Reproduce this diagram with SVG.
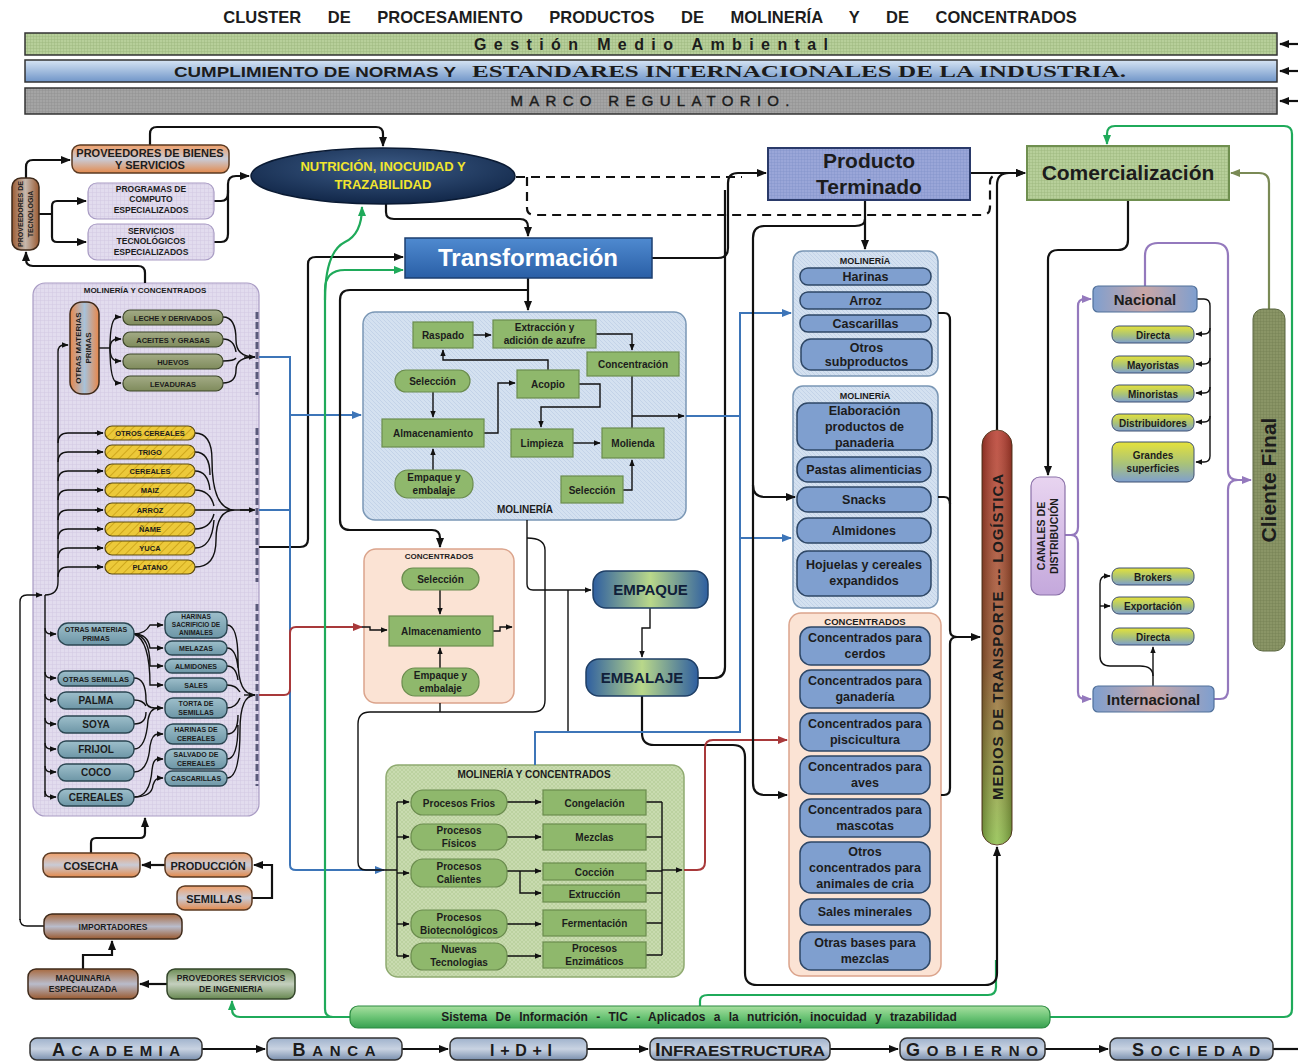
<svg xmlns="http://www.w3.org/2000/svg" width="1298" height="1061" viewBox="0 0 1298 1061">
<style>
text{font-family:"Liberation Sans",Arial,sans-serif;font-weight:bold;fill:#1c1c1c;text-anchor:middle}
.c{fill:none;stroke:#111;stroke-width:2.2}
.cb{fill:none;stroke:#3d75b8;stroke-width:2}
.cr{fill:none;stroke:#a8393a;stroke-width:2}
.cg{fill:none;stroke:#1faa5a;stroke-width:2.2}
.cp{fill:none;stroke:#9479bd;stroke-width:2.2}
.co{fill:none;stroke:#7a8a55;stroke-width:2.2}
.ct{fill:none;stroke:#111;stroke-width:1.4}
.dash{fill:none;stroke:#111;stroke-width:2.2;stroke-dasharray:9,6}
.brk{fill:none;stroke:#5a5a7a;stroke-width:3;stroke-dasharray:7,3}
.orange{fill:url(#gOrange);stroke:#5b3a22;stroke-width:1.5}
.brown{fill:url(#gBrown);stroke:#3f2a1a;stroke-width:1.5}
.gserv{fill:url(#gGreen);stroke:#33452a;stroke-width:1.5}
.lav{fill:url(#pLav);stroke:#a99cc4;stroke-width:1.2}
.olive{fill:url(#gOlive);stroke:#3b4428;stroke-width:1.2}
.yel{fill:url(#pHatch);stroke:#5b4a10;stroke-width:1.2}
.teal{fill:url(#gTeal);stroke:#2b4652;stroke-width:1.4}
.proc{fill:#8fb86c;stroke:#6b8c4e;stroke-width:1.2}
.bpill{fill:#7f9fcf;stroke:#2e4766;stroke-width:1.5}
.actor{fill:url(#gBot);stroke:#333;stroke-width:1.5}
.chan{fill:url(#gChan);stroke:#3f5070;stroke-width:1}
.t7{font-size:7.5px}
.t8{font-size:8.5px}
.t9{font-size:10px}
.t11{font-size:11px}
.t12{font-size:12.5px}
.big{font-size:18px}
</style>
<defs>
<marker id="ah" viewBox="0 0 10 8" refX="9" refY="4" markerWidth="10" markerHeight="8" markerUnits="userSpaceOnUse" orient="auto"><path d="M0,0 L10,4 L0,8 z" fill="#111"/></marker>
<marker id="ahs" viewBox="0 0 10 8" refX="9" refY="4" markerWidth="7" markerHeight="6" markerUnits="userSpaceOnUse" orient="auto"><path d="M0,0 L10,4 L0,8 z" fill="#111"/></marker>
<marker id="ahB" viewBox="0 0 10 8" refX="9" refY="4" markerWidth="10" markerHeight="8" markerUnits="userSpaceOnUse" orient="auto"><path d="M0,0 L10,4 L0,8 z" fill="#3d75b8"/></marker>
<marker id="ahR" viewBox="0 0 10 8" refX="9" refY="4" markerWidth="10" markerHeight="8" markerUnits="userSpaceOnUse" orient="auto"><path d="M0,0 L10,4 L0,8 z" fill="#a8393a"/></marker>
<marker id="ahG" viewBox="0 0 10 8" refX="9" refY="4" markerWidth="10" markerHeight="8" markerUnits="userSpaceOnUse" orient="auto"><path d="M0,0 L10,4 L0,8 z" fill="#1faa5a"/></marker>
<marker id="ahP" viewBox="0 0 10 8" refX="9" refY="4" markerWidth="10" markerHeight="8" markerUnits="userSpaceOnUse" orient="auto"><path d="M0,0 L10,4 L0,8 z" fill="#9479bd"/></marker>
<marker id="ahO" viewBox="0 0 10 8" refX="9" refY="4" markerWidth="10" markerHeight="8" markerUnits="userSpaceOnUse" orient="auto"><path d="M0,0 L10,4 L0,8 z" fill="#7a8a55"/></marker>
<linearGradient id="gOrange" x1="0" y1="0" x2="0" y2="1"><stop offset="0" stop-color="#f0a06a"/><stop offset="0.5" stop-color="#c9cbd6"/><stop offset="1" stop-color="#e48a4c"/></linearGradient>
<linearGradient id="gBrown" x1="0" y1="0" x2="0" y2="1"><stop offset="0" stop-color="#a86a40"/><stop offset="0.5" stop-color="#b9bccb"/><stop offset="1" stop-color="#9a5a30"/></linearGradient>
<linearGradient id="gGreen" x1="0" y1="0" x2="0" y2="1"><stop offset="0" stop-color="#6e8e56"/><stop offset="0.5" stop-color="#c4cfbe"/><stop offset="1" stop-color="#678850"/></linearGradient>
<linearGradient id="gOlive" x1="0" y1="0" x2="0" y2="1"><stop offset="0" stop-color="#a3ab86"/><stop offset="1" stop-color="#7f8b5c"/></linearGradient>
<linearGradient id="gTeal" x1="0" y1="0" x2="0" y2="1"><stop offset="0" stop-color="#9ebfcb"/><stop offset="1" stop-color="#6d96a6"/></linearGradient>
<linearGradient id="gOMP" x1="0" y1="0" x2="1" y2="0"><stop offset="0" stop-color="#e8874a"/><stop offset="0.5" stop-color="#a7c2da"/><stop offset="1" stop-color="#e8874a"/></linearGradient>
<linearGradient id="gPVTec" x1="0" y1="0" x2="1" y2="0"><stop offset="0" stop-color="#9a5a32"/><stop offset="0.5" stop-color="#c6b8ad"/><stop offset="1" stop-color="#9a5a32"/></linearGradient>
<radialGradient id="gEll" cx="0.5" cy="0.35" r="0.7"><stop offset="0" stop-color="#3c5b86"/><stop offset="1" stop-color="#0e2344"/></radialGradient>
<linearGradient id="gTrans" x1="0" y1="0" x2="0" y2="1"><stop offset="0" stop-color="#4f8ad0"/><stop offset="1" stop-color="#2a5fa6"/></linearGradient>
<linearGradient id="gPack" x1="0" y1="0" x2="1" y2="0"><stop offset="0" stop-color="#2f5fa0"/><stop offset="0.5" stop-color="#b9d88a"/><stop offset="1" stop-color="#2f5fa0"/></linearGradient>
<linearGradient id="gMedios" x1="0" y1="0" x2="0" y2="1"><stop offset="0" stop-color="#b83a2c"/><stop offset="0.55" stop-color="#9a5a30"/><stop offset="1" stop-color="#8ec04a"/></linearGradient>
<linearGradient id="gMedX" x1="0" y1="0" x2="1" y2="0"><stop offset="0" stop-color="#000" stop-opacity="0.25"/><stop offset="0.5" stop-color="#fff" stop-opacity="0.15"/><stop offset="1" stop-color="#000" stop-opacity="0.25"/></linearGradient>
<linearGradient id="gNac" x1="0" y1="0" x2="1" y2="0"><stop offset="0" stop-color="#7f9fcf"/><stop offset="0.5" stop-color="#c9a6a6"/><stop offset="1" stop-color="#7f9fcf"/></linearGradient>
<linearGradient id="gCanal" x1="0" y1="0" x2="0" y2="1"><stop offset="0" stop-color="#e8d4f0"/><stop offset="1" stop-color="#c4a8dc"/></linearGradient>
<linearGradient id="gChan" x1="0" y1="0" x2="0" y2="1"><stop offset="0" stop-color="#e5e23a"/><stop offset="0.55" stop-color="#a8c27a"/><stop offset="1" stop-color="#7f9fcf"/></linearGradient>
<linearGradient id="gSis" x1="0" y1="0" x2="0" y2="1"><stop offset="0" stop-color="#a8e0a0"/><stop offset="0.5" stop-color="#6cc476"/><stop offset="1" stop-color="#37a050"/></linearGradient>
<linearGradient id="gBot" x1="0" y1="0" x2="0" y2="1"><stop offset="0" stop-color="#9fb2cc"/><stop offset="0.5" stop-color="#c9d3e2"/><stop offset="1" stop-color="#7a8fae"/></linearGradient>
<linearGradient id="gNorm" x1="0" y1="0" x2="0" y2="1"><stop offset="0" stop-color="#d6e4f4"/><stop offset="1" stop-color="#6f95c8"/></linearGradient>
<pattern id="pLav" width="4" height="4" patternUnits="userSpaceOnUse"><rect width="4" height="4" fill="#e2dcee"/><path d="M0,0 H4 M0,0 V4" stroke="#d2c9e2" stroke-width="1"/></pattern>
<pattern id="pHatch" width="6" height="6" patternUnits="userSpaceOnUse" patternTransform="rotate(45)"><rect width="6" height="6" fill="#ecc93a"/><path d="M0,0 V6" stroke="#cfa71c" stroke-width="2"/></pattern>
<pattern id="pGreenG" width="3" height="3" patternUnits="userSpaceOnUse"><rect width="3" height="3" fill="#b7cf9a"/><path d="M0,0 H3 M0,0 V3" stroke="#98b47a" stroke-width="0.8"/></pattern>
<pattern id="pBlueG" width="3" height="3" patternUnits="userSpaceOnUse"><rect width="3" height="3" fill="#9aa6d8"/><path d="M0,0 H3 M0,0 V3" stroke="#8290c8" stroke-width="0.8"/></pattern>
<pattern id="pGray" width="3" height="3" patternUnits="userSpaceOnUse"><rect width="3" height="3" fill="#a4a4a4"/><path d="M0,0 H3 M0,0 V3" stroke="#8e8e8e" stroke-width="0.8"/></pattern>
<pattern id="pCF" width="3" height="3" patternUnits="userSpaceOnUse"><rect width="3" height="3" fill="#8a9566"/><path d="M0,0 H3 M0,0 V3" stroke="#737f52" stroke-width="0.8"/></pattern>
<pattern id="pBlueBox" width="4" height="4" patternUnits="userSpaceOnUse"><rect width="4" height="4" fill="#d4e1f0"/><path d="M0,0 L4,4" stroke="#c3d3e8" stroke-width="1"/></pattern>
<pattern id="pGreenBox" width="4" height="4" patternUnits="userSpaceOnUse"><rect width="4" height="4" fill="#c9dbb0"/><path d="M0,0 L4,4 M4,0 L0,4" stroke="#b9cf9c" stroke-width="0.8"/></pattern>
</defs>

<rect width="1298" height="1061" fill="#fff"/>

<!-- title and framework bands -->
<g id="title"><text x="650" y="23" style="font-size:16.5px;word-spacing:22px">CLUSTER DE PROCESAMIENTO PRODUCTOS DE MOLINERÍA Y DE CONCENTRADOS</text></g>
<g id="band-ambiental"><rect x="25" y="33" width="1252" height="22" fill="url(#pGreenG)" stroke="#333" stroke-width="1.5"/><text x="651" y="49.5" style="font-size:16px" textLength="354" lengthAdjust="spacing">Gestión  Medio  Ambiental</text></g>
<g id="band-normas"><rect x="25" y="60" width="1252" height="22" fill="url(#gNorm)" stroke="#333" stroke-width="1.5"/><text x="315" y="77" style="font-size:14px" textLength="282" lengthAdjust="spacingAndGlyphs">CUMPLIMIENTO DE NORMAS  Y</text><text x="799" y="77" style="font-size:16px;font-family:'Liberation Serif',serif" textLength="654" lengthAdjust="spacingAndGlyphs">ESTANDARES INTERNACIONALES DE LA INDUSTRIA.</text></g>
<g id="band-marco"><rect x="25" y="88" width="1252" height="26" fill="url(#pGray)" stroke="#333" stroke-width="1.5"/><text x="650" y="106" style="font-size:15px;font-weight:normal;stroke:#1c1c1c;stroke-width:0.4" textLength="279" lengthAdjust="spacing">MARCO REGULATORIO.</text></g>

<!-- process containers -->
<g id="insumos"><rect x="33" y="283" width="226" height="533" rx="12" class="lav"/><text x="145" y="293" style="font-size:8px">MOLINERÍA Y CONCENTRADOS</text></g>
<g id="molineria-proc"><rect x="363" y="312" width="323" height="208" rx="12" fill="url(#pBlueBox)" stroke="#7a97b5" stroke-width="1.5"/><text x="525" y="513" class="t9">MOLINERÍA</text></g>
<g id="concentrados-proc"><rect x="364" y="549" width="150" height="154" rx="12" fill="#fbe3d4" stroke="#dba48c" stroke-width="1.5"/><text x="439" y="559" style="font-size:8px">CONCENTRADOS</text></g>
<g id="procesos"><rect x="386" y="765" width="298" height="212" rx="12" fill="url(#pGreenBox)" stroke="#8faa70" stroke-width="1.5"/><text x="534" y="778" class="t9">MOLINERÍA Y CONCENTRADOS</text></g>
<g id="mol-prod1"><rect x="793" y="251" width="145" height="125" rx="10" fill="url(#pBlueBox)" stroke="#7a97b5" stroke-width="1.5"/><text x="865" y="264" style="font-size:9px">MOLINERÍA</text></g>
<g id="mol-prod2"><rect x="793" y="386" width="145" height="222" rx="10" fill="url(#pBlueBox)" stroke="#7a97b5" stroke-width="1.5"/><text x="865" y="399" style="font-size:9px">MOLINERÍA</text></g>
<g id="conc-prod"><rect x="789" y="613" width="152" height="363" rx="12" fill="#fbe3d4" stroke="#dba48c" stroke-width="1.5"/><text x="865" y="625" style="font-size:9.5px">CONCENTRADOS</text></g>

<!-- connectors -->
<g id="connectors">
<path class="c" d="M1298,44 H1280" marker-end="url(#ah)"/>
<path class="c" d="M1298,71 H1280" marker-end="url(#ah)"/>
<path class="c" d="M1298,101 H1280" marker-end="url(#ah)"/>
<!-- technology providers -->
<path class="c" d="M26,178 V167 Q26,160 33,160 H70" marker-end="url(#ah)"/>
<path class="c" d="M39,214 H52 M52,214 V206 Q52,201 57,201 H86" marker-end="url(#ah)"/>
<path class="c" d="M52,214 V237 Q52,242 57,242 H86" marker-end="url(#ah)"/>
<path class="c" d="M214,201 H221 Q228,201 228,193 V184 Q228,176 236,176 H249" marker-end="url(#ah)"/>
<path class="c" d="M214,242 H221 Q228,242 228,234 V190"/>
<path class="c" d="M150,145 V134 Q150,127 157,127 H376 Q383,127 383,134 V146" marker-end="url(#ah)"/>
<path class="c" d="M145,283 V273 Q145,266 138,266 H33 Q26,266 26,259 V252" marker-end="url(#ah)"/>
<path class="c" d="M386,204 V212 Q386,219 394,219 H520 Q528,219 528,227 V236" marker-end="url(#ah)"/>
<!-- dashed quality link -->
<path class="dash" d="M516,177 H742"/>
<path class="dash" d="M527,177 V208 Q527,215 535,215 H982 Q990,215 990,207 V182 Q990,175 998,175"/>
<!-- supply feeds -->
<path class="c" d="M259,547 H300 Q308,547 308,539 V264 Q308,257 316,257 H403" marker-end="url(#ah)"/>
<path class="cb" d="M259,357 H290 V865 Q290,870 296,870 H384" marker-end="url(#ahB)"/>
<path class="cb" d="M259,510 H290"/>
<path class="cb" d="M290,415 H361" marker-end="url(#ahB)"/>
<path class="cr" d="M259,695 H284 Q290,695 290,689 V633 Q290,627 296,627 H362" marker-end="url(#ahR)"/>
<!-- information system -->
<path class="cg" d="M352,1017 H240 Q232,1017 232,1009 V1001" marker-end="url(#ahG)"/>
<path class="cg" d="M352,1017 H333 Q325,1017 325,1009 V290 Q325,270 345,270 H403" marker-end="url(#ahG)"/>
<path class="cg" d="M325,300 Q325,252 345,242 Q362,234 362,207" marker-end="url(#ahG)"/>
<path class="cg" d="M700,1006 V1001 Q700,995 708,995 H988 Q996,995 996,987 V960"/>
<path class="cg" d="M1048,1017 H1284 Q1292,1017 1292,1009 V134 Q1292,126 1284,126 H1115 Q1107,126 1107,134 V144" marker-end="url(#ahG)"/>
<!-- transformation -->
<path class="c" d="M528,278 V310" marker-end="url(#ah)"/>
<path class="c" d="M528,290 H350 Q340,290 340,300 V520 Q340,530 350,530 H432 Q440,530 440,538 V547" marker-end="url(#ah)"/>
<path class="c" d="M652,258 H718 Q728,258 728,248 V183 Q728,173 738,173 H766" marker-end="url(#ah)"/>
<path class="c" d="M698,678 H714 Q725,678 725,667 V190"/>
<!-- molineria internal -->
<path class="ct" d="M473,335 H491" marker-end="url(#ahs)"/>
<path class="ct" d="M596,334 H632 V350" marker-end="url(#ahs)"/>
<path class="ct" d="M548,370 V360 H443 V350" marker-end="url(#ahs)"/>
<path class="ct" d="M433,392 V417" marker-end="url(#ahs)"/>
<path class="ct" d="M433,470 V449" marker-end="url(#ahs)"/>
<path class="ct" d="M484,433 H498 V383 H515" marker-end="url(#ahs)"/>
<path class="ct" d="M579,384 H600 V407 H541 V427" marker-end="url(#ahs)"/>
<path class="ct" d="M573,443 H600" marker-end="url(#ahs)"/>
<path class="ct" d="M623,490 H632 V460" marker-end="url(#ahs)"/>
<path class="ct" d="M632,376 V428 M632,416 H684" marker-end="url(#ahs)"/>
<!-- concentrados internal -->
<path class="ct" d="M440,590 V614" marker-end="url(#ahs)"/>
<path class="ct" d="M440,668 V648" marker-end="url(#ahs)"/>
<path class="ct" d="M362,627 H370 V630 H387" marker-end="url(#ahs)"/>
<path class="ct" d="M493,631 H500 V627 H512" marker-end="url(#ahs)"/>
<!-- to packing -->
<path class="ct" d="M527,520 V584 Q527,590 533,590 H591" marker-end="url(#ahs)"/>
<path class="ct" d="M527,538 Q545,538 545,550 V700 Q545,712 533,712 H370 Q358,712 358,724 V862 Q358,870 366,870 H384"/>
<path class="ct" d="M440,703 V712"/>
<path class="ct" d="M568,590 V732"/>
<path class="ct" d="M650,608 V628 H642 V657" marker-end="url(#ahs)"/>
<path class="c" d="M642,696 V733 Q642,745 654,745 H733 Q745,745 745,757 V973 Q745,985 757,985 H985 Q997,985 997,973 V847" marker-end="url(#ah)"/>
<path class="cb" d="M535,765 V732 H740 V313 H791" marker-end="url(#ahB)"/>
<path class="cb" d="M686,416 H740 M740,538 H791" marker-end="url(#ahB)"/>
<!-- mixed processes -->
<path class="ct" d="M384,870 H397 M397,802 V956"/>
<path class="ct" d="M397,802 H409" marker-end="url(#ahs)"/>
<path class="ct" d="M397,837 H409" marker-end="url(#ahs)"/>
<path class="ct" d="M397,873 H409" marker-end="url(#ahs)"/>
<path class="ct" d="M397,924 H409" marker-end="url(#ahs)"/>
<path class="ct" d="M397,956 H409" marker-end="url(#ahs)"/>
<path class="ct" d="M507,802 H541" marker-end="url(#ahs)"/>
<path class="ct" d="M507,837 H541" marker-end="url(#ahs)"/>
<path class="ct" d="M507,871 H541" marker-end="url(#ahs)"/>
<path class="ct" d="M520,871 V893 H541" marker-end="url(#ahs)"/>
<path class="ct" d="M507,924 H541" marker-end="url(#ahs)"/>
<path class="ct" d="M507,956 H541" marker-end="url(#ahs)"/>
<path class="ct" d="M646,802 H662 M646,837 H662 M646,871 H662 M646,893 H662 M646,923 H662 M646,955 H662 M662,802 V955"/>
<path class="ct" d="M662,870 H682" marker-end="url(#ahs)"/>
<path class="cr" d="M684,870 H697 Q705,870 705,862 V748 Q705,740 713,740 H787" marker-end="url(#ahR)"/>
<!-- finished product -->
<path class="c" d="M970,173 H1025" marker-end="url(#ah)"/>
<path class="c" d="M865,200 V249" marker-end="url(#ah)"/>
<path class="c" d="M865,219 Q865,226 855,226 H765 Q753,226 753,238 V783 Q753,795 765,795 H787" marker-end="url(#ah)"/>
<path class="c" d="M753,485 Q753,497 765,497 H795" marker-end="url(#ah)"/>
<path class="c" d="M938,313 H944 Q950,313 950,320 V630 Q950,637 957,637 H980" marker-end="url(#ah)"/>
<path class="c" d="M938,497 H944 Q950,497 950,504"/>
<path class="c" d="M941,795 H944 Q950,795 950,788 V644 Q950,637 957,637"/>
<path class="c" d="M997,430 V185 Q997,173 1009,173 H1025" marker-end="url(#ah)"/>
<!-- commercial channels -->
<path class="c" d="M1128,200 V240 Q1128,250 1118,250 H1058 Q1048,250 1048,260 V475" marker-end="url(#ah)"/>
<path class="cp" d="M1065,535 H1071 Q1078,535 1078,527 V306 Q1078,299 1085,299 H1091" marker-end="url(#ahP)"/>
<path class="cp" d="M1071,535 Q1078,535 1078,543 V692 Q1078,699 1085,699 H1091" marker-end="url(#ahP)"/>
<path class="cp" d="M1145,286 V256 Q1145,243 1158,243 H1215 Q1228,243 1228,256 V470 Q1228,480 1238,480 H1251" marker-end="url(#ahP)"/>
<path class="cp" d="M1214,699 H1220 Q1228,699 1228,690 V490 Q1228,480 1238,480"/>
<path class="ct" d="M1197,299 H1204 Q1210,299 1210,306 V456 Q1210,462 1204,462 H1196" marker-end="url(#ahs)"/>
<path class="ct" d="M1210,328 Q1210,334 1204,334 H1196" marker-end="url(#ahs)"/>
<path class="ct" d="M1210,358 Q1210,364 1204,364 H1196" marker-end="url(#ahs)"/>
<path class="ct" d="M1210,387 Q1210,393 1204,393 H1196" marker-end="url(#ahs)"/>
<path class="ct" d="M1210,416 Q1210,422 1204,422 H1196" marker-end="url(#ahs)"/>
<path class="ct" d="M1153,686 V647" marker-end="url(#ahs)"/>
<path class="ct" d="M1153,676 Q1153,666 1140,666 H1110 Q1100,666 1100,656 V584 Q1100,576 1106,576 H1110" marker-end="url(#ahs)"/>
<path class="ct" d="M1100,606 H1110" marker-end="url(#ahs)"/>
<path class="co" d="M1269,309 V183 Q1269,173 1259,173 H1231" marker-end="url(#ahO)"/>
<!-- left supply box internals -->
<path class="ct" d="M99,348 H110"/>
<path class="ct" d="M110,348 Q110,317 118,317 H121" marker-end="url(#ahs)"/>
<path class="ct" d="M110,348 Q110,339 118,339 H121" marker-end="url(#ahs)"/>
<path class="ct" d="M110,348 Q110,361 118,361 H121" marker-end="url(#ahs)"/>
<path class="ct" d="M110,348 Q110,383 118,383 H121" marker-end="url(#ahs)"/>
<path class="ct" d="M223,317 Q236,317 236,340 Q236,357 255,357 M223,339 Q234,339 236,352 M223,361 Q234,361 236,358 M223,383 Q236,383 236,370 Q236,357 255,357"/>
<path class="ct" d="M244,357 H255" marker-end="url(#ahs)"/>
<path class="ct" d="M20,920 V602 Q20,595 27,595 H42" marker-end="url(#ahs)"/>
<path class="ct" d="M44,926 H27 Q20,926 20,919"/>
<path class="ct" d="M45,595 Q58,595 58,582 V352 Q58,345 64,345 H68" marker-end="url(#ahs)"/>
<path class="ct" d="M58,443 Q58,433 68,433 H103 M58,462 Q58,452 68,452 H103 M58,481 Q58,471 68,471 H103 M58,500 Q58,490 68,490 H103 M58,520 Q58,510 68,510 H103 M58,539 Q58,529 68,529 H103 M58,558 Q58,548 68,548 H103 M58,577 Q58,567 68,567 H103"/>
<path class="ct" d="M95,433 H103" marker-end="url(#ahs)"/><path class="ct" d="M95,452 H103" marker-end="url(#ahs)"/><path class="ct" d="M95,471 H103" marker-end="url(#ahs)"/><path class="ct" d="M95,490 H103" marker-end="url(#ahs)"/><path class="ct" d="M95,510 H103" marker-end="url(#ahs)"/><path class="ct" d="M95,529 H103" marker-end="url(#ahs)"/><path class="ct" d="M95,548 H103" marker-end="url(#ahs)"/><path class="ct" d="M95,567 H103" marker-end="url(#ahs)"/>
<path class="ct" d="M195,433 Q212,433 212,460 Q212,510 235,510 M195,452 Q210,452 210,475 M195,471 Q208,471 210,490 M195,490 Q210,490 214,506 M195,510 H253 M195,529 Q210,529 214,514 M195,548 Q212,548 214,520 M195,567 Q216,567 216,540 Q216,510 235,510"/>
<path class="ct" d="M240,510 H255" marker-end="url(#ahs)"/>
<path class="ct" d="M45,595 V797"/>
<path class="ct" d="M45,628 Q45,634 51,634 H56" marker-end="url(#ahs)"/><path class="ct" d="M45,672 Q45,678 51,678 H56" marker-end="url(#ahs)"/><path class="ct" d="M45,694 Q45,700 51,700 H56" marker-end="url(#ahs)"/><path class="ct" d="M45,718 Q45,724 51,724 H56" marker-end="url(#ahs)"/><path class="ct" d="M45,743 Q45,749 51,749 H56" marker-end="url(#ahs)"/><path class="ct" d="M45,766 Q45,772 51,772 H56" marker-end="url(#ahs)"/><path class="ct" d="M45,791 Q45,797 51,797 H56" marker-end="url(#ahs)"/>
<path class="ct" d="M134,634 Q145,634 150,625 H163" marker-end="url(#ahs)"/>
<path class="ct" d="M134,634 Q148,634 150,648 H163" marker-end="url(#ahs)"/>
<path class="ct" d="M134,634 Q150,636 150,666 H163" marker-end="url(#ahs)"/>
<path class="ct" d="M134,634 Q150,640 150,685 H163" marker-end="url(#ahs)"/>
<path class="ct" d="M134,678 Q146,678 146,700 Q146,708 155,708 H163" marker-end="url(#ahs)"/>
<path class="ct" d="M134,700 Q143,700 146,706 M134,724 Q146,724 146,712 M134,749 Q146,749 148,720 Q150,708 158,708"/>
<path class="ct" d="M134,772 Q148,772 150,746 Q152,734 158,734 H163" marker-end="url(#ahs)"/>
<path class="ct" d="M134,797 Q150,797 152,770 Q153,759 158,759 H163" marker-end="url(#ahs)"/>
<path class="ct" d="M134,797 Q152,797 153,785 Q155,778 160,778 H163" marker-end="url(#ahs)"/>
<path class="ct" d="M227,625 Q238,625 238,660 Q238,695 255,695 M227,648 Q236,648 238,668 M227,666 Q236,666 238,680 M227,685 Q236,685 240,692 M227,708 Q236,708 240,698 M227,734 Q238,734 238,715 M227,759 Q238,759 238,725 M227,778 Q240,778 240,730 Q240,695 255,695"/>
<path class="ct" d="M244,695 H255" marker-end="url(#ahs)"/>
<path class="brk" d="M257,312 V395"/>
<path class="brk" d="M257,428 V582"/>
<path class="brk" d="M257,604 V786"/>
<!-- bottom-left supply chain -->
<path class="c" d="M91,853 V843 Q91,838 96,838 H140 Q145,838 145,833 V818" marker-end="url(#ah)"/>
<path class="c" d="M165,865 H142" marker-end="url(#ah)"/>
<path class="c" d="M252,898 H272 V865 H254" marker-end="url(#ah)"/>
<path class="c" d="M83,969 V955 H112 V941" marker-end="url(#ah)"/>
<path class="c" d="M167,984 H140" marker-end="url(#ah)"/>
<!-- actors row -->
<path class="c" d="M202,1049 H265" marker-end="url(#ah)"/>
<path class="c" d="M402,1049 H448" marker-end="url(#ah)"/>
<path class="c" d="M587,1049 H648" marker-end="url(#ah)"/>
<path class="c" d="M830,1049 H898" marker-end="url(#ah)"/>
<path class="c" d="M1045,1049 H1108" marker-end="url(#ah)"/>
<path class="c" d="M1273,1049 H1298"/>
</g>

<!-- providers -->
<g id="prov-tecnologia"><rect x="12" y="178" width="27" height="72" rx="9" fill="url(#gPVTec)" stroke="#3f2a1a" stroke-width="1.5"/><text transform="translate(23,214) rotate(-90)" style="font-size:7px">PROVEEDORES DE</text><text transform="translate(33,214) rotate(-90)" style="font-size:7px">TECNOLOGIA</text></g>
<g id="prov-bienes"><rect x="72" y="145" width="157" height="28" rx="8" class="orange"/><text x="150" y="157" class="t11">PROVEEDORES DE BIENES</text><text x="150" y="169" class="t11">Y SERVICIOS</text></g>
<g id="programas"><rect x="88" y="183" width="126" height="36" rx="9" class="lav"/><text x="151" y="192" class="t8">PROGRAMAS DE</text><text x="151" y="202" class="t8">COMPUTO</text><text x="151" y="213" class="t8">ESPECIALIZADOS</text></g>
<g id="servicios"><rect x="88" y="224" width="126" height="36" rx="9" class="lav"/><text x="151" y="234" class="t8">SERVICIOS</text><text x="151" y="244" class="t8">TECNOLÓGICOS</text><text x="151" y="255" class="t8">ESPECIALIZADOS</text></g>
<g id="nutricion"><ellipse cx="383" cy="176" rx="132" ry="28" fill="url(#gEll)" stroke="#0a1a33" stroke-width="1.5"/><text x="383" y="171" style="font-size:13px;fill:#f2e62e">NUTRICIÓN, INOCUIDAD Y</text><text x="383" y="189" style="font-size:13px;fill:#f2e62e">TRAZABILIDAD</text></g>
<g id="transformacion"><rect x="405" y="238" width="247" height="40" fill="url(#gTrans)" stroke="#1d3f70" stroke-width="1.5"/><text x="528" y="266" style="font-size:24px;fill:#fff">Transformación</text></g>

<!-- raw material supply -->
<g id="otras-mp"><rect x="70" y="302" width="29" height="92" rx="12" fill="url(#gOMP)" stroke="#3f2a1a" stroke-width="1.5"/><text transform="translate(81,348) rotate(-90)" style="font-size:8px">OTRAS MATERIAS</text><text transform="translate(91,348) rotate(-90)" style="font-size:8px">PRIMAS</text></g>
<g id="leche"><rect x="123" y="310" width="100" height="15" rx="7" class="olive"/><text x="173" y="320.5" class="t7">LECHE Y DERIVADOS</text></g>
<g id="aceites"><rect x="123" y="332" width="100" height="15" rx="7" class="olive"/><text x="173" y="342.5" class="t7">ACEITES Y GRASAS</text></g>
<g id="huevos"><rect x="123" y="354" width="100" height="15" rx="7" class="olive"/><text x="173" y="364.5" class="t7">HUEVOS</text></g>
<g id="levaduras"><rect x="123" y="376" width="100" height="15" rx="7" class="olive"/><text x="173" y="386.5" class="t7">LEVADURAS</text></g>
<g id="otros-cereales"><rect x="105" y="426" width="90" height="14" rx="7" class="yel"/><text x="150" y="436" class="t7">OTROS CEREALES</text></g>
<g id="trigo"><rect x="105" y="445" width="90" height="14" rx="7" class="yel"/><text x="150" y="455" class="t7">TRIGO</text></g>
<g id="cereales-y"><rect x="105" y="464" width="90" height="14" rx="7" class="yel"/><text x="150" y="474" class="t7">CEREALES</text></g>
<g id="maiz"><rect x="105" y="483" width="90" height="14" rx="7" class="yel"/><text x="150" y="493" class="t7">MAIZ</text></g>
<g id="arroz-y"><rect x="105" y="503" width="90" height="14" rx="7" class="yel"/><text x="150" y="513" class="t7">ARROZ</text></g>
<g id="name"><rect x="105" y="522" width="90" height="14" rx="7" class="yel"/><text x="150" y="532" class="t7">ÑAME</text></g>
<g id="yuca"><rect x="105" y="541" width="90" height="14" rx="7" class="yel"/><text x="150" y="551" class="t7">YUCA</text></g>
<g id="platano"><rect x="105" y="560" width="90" height="14" rx="7" class="yel"/><text x="150" y="570" class="t7">PLATANO</text></g>
<g id="otras-mp2"><rect x="58" y="623" width="76" height="22" rx="10" class="teal"/><text x="96" y="632" style="font-size:7px">OTRAS MATERIAS</text><text x="96" y="641" style="font-size:7px">PRIMAS</text></g>
<g id="otras-semillas"><rect x="58" y="671" width="76" height="15" rx="7" class="teal"/><text x="96" y="681.5" class="t7">OTRAS SEMILLAS</text></g>
<g id="palma"><rect x="58" y="692" width="76" height="17" rx="8" class="teal"/><text x="96" y="704" class="t9">PALMA</text></g>
<g id="soya"><rect x="58" y="716" width="76" height="17" rx="8" class="teal"/><text x="96" y="728" class="t9">SOYA</text></g>
<g id="frijol"><rect x="58" y="741" width="76" height="17" rx="8" class="teal"/><text x="96" y="753" class="t9">FRIJOL</text></g>
<g id="coco"><rect x="58" y="764" width="76" height="17" rx="8" class="teal"/><text x="96" y="776" class="t9">COCO</text></g>
<g id="cereales-t"><rect x="58" y="789" width="76" height="17" rx="8" class="teal"/><text x="96" y="801" class="t9">CEREALES</text></g>
<g id="harinas-sacrificio"><rect x="165" y="612" width="62" height="26" rx="9" class="teal"/><text x="196" y="619" style="font-size:6.5px">HARINAS</text><text x="196" y="627" style="font-size:6.5px">SACRIFICIO DE</text><text x="196" y="635" style="font-size:6.5px">ANIMALES</text></g>
<g id="melazas"><rect x="165" y="641" width="62" height="14" rx="7" class="teal"/><text x="196" y="650.5" style="font-size:7px">MELAZAS</text></g>
<g id="almidones-t"><rect x="165" y="659" width="62" height="14" rx="7" class="teal"/><text x="196" y="668.5" style="font-size:7px">ALMIDONES</text></g>
<g id="sales"><rect x="165" y="678" width="62" height="14" rx="7" class="teal"/><text x="196" y="687.5" style="font-size:7px">SALES</text></g>
<g id="torta"><rect x="165" y="698" width="62" height="20" rx="8" class="teal"/><text x="196" y="706" style="font-size:7px">TORTA DE</text><text x="196" y="715" style="font-size:7px">SEMILLAS</text></g>
<g id="harinas-cereales"><rect x="165" y="724" width="62" height="20" rx="8" class="teal"/><text x="196" y="732" style="font-size:7px">HARINAS DE</text><text x="196" y="741" style="font-size:7px">CEREALES</text></g>
<g id="salvado"><rect x="165" y="749" width="62" height="20" rx="8" class="teal"/><text x="196" y="757" style="font-size:7px">SALVADO DE</text><text x="196" y="766" style="font-size:7px">CEREALES</text></g>
<g id="cascarillas-t"><rect x="165" y="771" width="62" height="15" rx="7" class="teal"/><text x="196" y="781" style="font-size:7px">CASCARILLAS</text></g>

<!-- primary production -->
<g id="cosecha"><rect x="43" y="853" width="97" height="24" rx="8" class="orange"/><text x="91" y="869.5" class="t11">COSECHA</text></g>
<g id="produccion"><rect x="165" y="853" width="87" height="24" rx="8" class="orange"/><text x="208" y="869.5" class="t11">PRODUCCIÓN</text></g>
<g id="semillas"><rect x="177" y="886" width="75" height="24" rx="8" class="orange"/><text x="214" y="902.5" class="t11">SEMILLAS</text></g>
<g id="importadores"><rect x="44" y="914" width="138" height="25" rx="8" class="brown"/><text x="113" y="930" class="t8">IMPORTADORES</text></g>
<g id="maquinaria"><rect x="28" y="969" width="110" height="30" rx="8" class="brown"/><text x="83" y="981" class="t8">MAQUINARIA</text><text x="83" y="992" class="t8">ESPECIALIZADA</text></g>
<g id="prov-ingenieria"><rect x="167" y="969" width="128" height="30" rx="8" class="gserv"/><text x="231" y="981" class="t8">PROVEDORES SERVICIOS</text><text x="231" y="992" class="t8">DE INGENIERIA</text></g>

<!-- milling steps -->
<g id="raspado"><rect x="413" y="322" width="60" height="26" class="proc"/><text x="443" y="339" class="t9">Raspado</text></g>
<g id="extraccion"><rect x="493" y="320" width="103" height="28" class="proc"/><text x="544.5" y="331" class="t9">Extracción y</text><text x="544.5" y="344" class="t9">adición de azufre</text></g>
<g id="concentracion"><rect x="587" y="352" width="92" height="24" class="proc"/><text x="633" y="368" class="t9">Concentración</text></g>
<g id="seleccion-m1"><rect x="395" y="370" width="75" height="22" rx="11" class="proc"/><text x="432.5" y="385" class="t9">Selección</text></g>
<g id="acopio"><rect x="517" y="370" width="62" height="28" class="proc"/><text x="548" y="388" class="t9">Acopio</text></g>
<g id="almacen-m"><rect x="382" y="419" width="102" height="28" class="proc"/><text x="433" y="437" class="t9">Almacenamiento</text></g>
<g id="limpieza"><rect x="511" y="429" width="62" height="28" class="proc"/><text x="542" y="447" class="t9">Limpieza</text></g>
<g id="molienda"><rect x="602" y="428" width="62" height="30" class="proc"/><text x="633" y="447" class="t9">Molienda</text></g>
<g id="empaque-m"><rect x="395" y="470" width="78" height="28" rx="13" class="proc"/><text x="434" y="481" class="t9">Empaque y</text><text x="434" y="494" class="t9">embalaje</text></g>
<g id="seleccion-m2"><rect x="561" y="476" width="62" height="27" class="proc"/><text x="592" y="493.5" class="t9">Selección</text></g>

<!-- concentrate steps -->
<g id="seleccion-c"><rect x="402" y="568" width="77" height="22" rx="11" class="proc"/><text x="440.5" y="583" class="t9">Selección</text></g>
<g id="almacen-c"><rect x="389" y="616" width="104" height="30" class="proc"/><text x="441" y="635" class="t9">Almacenamiento</text></g>
<g id="empaque-c"><rect x="402" y="668" width="77" height="28" rx="13" class="proc"/><text x="440.5" y="679" class="t9">Empaque y</text><text x="440.5" y="692" class="t9">embalaje</text></g>
<g id="empaque"><rect x="593" y="571" width="115" height="37" rx="13" fill="url(#gPack)" stroke="#1f3f66" stroke-width="1.5"/><text x="650.5" y="595" style="font-size:15px;fill:#10203a">EMPAQUE</text></g>
<g id="embalaje"><rect x="586" y="659" width="112" height="37" rx="13" fill="url(#gPack)" stroke="#1f3f66" stroke-width="1.5"/><text x="642" y="683" style="font-size:15px;fill:#10203a">EMBALAJE</text></g>

<!-- combined process steps -->
<g id="p-frios"><rect x="411" y="790" width="96" height="25" rx="12" class="proc"/><text x="459" y="806.5" class="t9">Procesos Frios</text></g>
<g id="p-fisicos"><rect x="411" y="824" width="96" height="26" rx="12" class="proc"/><text x="459" y="834" class="t9">Procesos</text><text x="459" y="847" class="t9">Físicos</text></g>
<g id="p-calientes"><rect x="411" y="859" width="96" height="28" rx="12" class="proc"/><text x="459" y="870" class="t9">Procesos</text><text x="459" y="883" class="t9">Calientes</text></g>
<g id="p-biotec"><rect x="411" y="910" width="96" height="28" rx="12" class="proc"/><text x="459" y="921" class="t9">Procesos</text><text x="459" y="934" class="t9">Biotecnológicos</text></g>
<g id="p-nuevas"><rect x="411" y="943" width="96" height="27" rx="12" class="proc"/><text x="459" y="953" class="t9">Nuevas</text><text x="459" y="966" class="t9">Tecnologias</text></g>
<g id="congelacion"><rect x="543" y="790" width="103" height="25" class="proc"/><text x="594.5" y="806.5" class="t9">Congelación</text></g>
<g id="mezclas"><rect x="543" y="824" width="103" height="26" class="proc"/><text x="594.5" y="841" class="t9">Mezclas</text></g>
<g id="coccion"><rect x="543" y="863" width="103" height="17" class="proc"/><text x="594.5" y="875.5" class="t9">Cocción</text></g>
<g id="extruccion"><rect x="543" y="885" width="103" height="17" class="proc"/><text x="594.5" y="897.5" class="t9">Extrucción</text></g>
<g id="fermentacion"><rect x="543" y="910" width="103" height="26" class="proc"/><text x="594.5" y="927" class="t9">Fermentación</text></g>
<g id="enzimaticos"><rect x="543" y="942" width="103" height="26" class="proc"/><text x="594.5" y="952" class="t9">Procesos</text><text x="594.5" y="965" class="t9">Enzimáticos</text></g>

<!-- finished goods -->
<g id="producto-terminado"><rect x="768" y="148" width="202" height="52" fill="url(#pBlueG)" stroke="#2a3a6a" stroke-width="2"/><text x="869" y="168" style="font-size:21px">Producto</text><text x="869" y="194" style="font-size:21px">Terminado</text></g>
<g id="comercializacion"><rect x="1027" y="146" width="202" height="54" fill="url(#pGreenG)" stroke="#6f8f4f" stroke-width="2"/><text x="1128" y="180" style="font-size:21px">Comercialización</text></g>
<g id="harinas"><rect x="800" y="268" width="131" height="17" rx="8" class="bpill"/><text x="865.5" y="281" class="t12">Harinas</text></g>
<g id="arroz"><rect x="800" y="292" width="131" height="17" rx="8" class="bpill"/><text x="865.5" y="305" class="t12">Arroz</text></g>
<g id="cascarillas"><rect x="800" y="315" width="131" height="17" rx="8" class="bpill"/><text x="865.5" y="328" class="t12">Cascarillas</text></g>
<g id="otros-sub"><rect x="801" y="339" width="131" height="31" rx="10" class="bpill"/><text x="866.5" y="352" class="t12">Otros</text><text x="866.5" y="366" class="t12">subproductos</text></g>
<g id="panaderia"><rect x="797" y="403" width="135" height="47" rx="11" class="bpill"/><text x="864.5" y="415" class="t12">Elaboración</text><text x="864.5" y="431" class="t12">productos de</text><text x="864.5" y="447" class="t12">panaderia</text></g>
<g id="pastas"><rect x="797" y="457" width="134" height="25" rx="11" class="bpill"/><text x="864" y="474" class="t12">Pastas alimenticias</text></g>
<g id="snacks"><rect x="797" y="487" width="134" height="25" rx="11" class="bpill"/><text x="864" y="504" class="t12">Snacks</text></g>
<g id="almidones"><rect x="797" y="518" width="134" height="25" rx="11" class="bpill"/><text x="864" y="535" class="t12">Almidones</text></g>
<g id="hojuelas"><rect x="797" y="551" width="134" height="45" rx="11" class="bpill"/><text x="864" y="569" class="t12">Hojuelas y cereales</text><text x="864" y="585" class="t12">expandidos</text></g>
<g id="cerdos"><rect x="800" y="627" width="130" height="38" rx="11" class="bpill"/><text x="865" y="642" class="t12">Concentrados para</text><text x="865" y="658" class="t12">cerdos</text></g>
<g id="ganaderia"><rect x="800" y="670" width="130" height="38" rx="11" class="bpill"/><text x="865" y="685" class="t12">Concentrados para</text><text x="865" y="701" class="t12">ganadería</text></g>
<g id="piscicultura"><rect x="800" y="713" width="130" height="38" rx="11" class="bpill"/><text x="865" y="728" class="t12">Concentrados para</text><text x="865" y="744" class="t12">piscicultura</text></g>
<g id="aves"><rect x="800" y="756" width="130" height="38" rx="11" class="bpill"/><text x="865" y="771" class="t12">Concentrados para</text><text x="865" y="787" class="t12">aves</text></g>
<g id="mascotas"><rect x="800" y="799" width="130" height="38" rx="11" class="bpill"/><text x="865" y="814" class="t12">Concentrados para</text><text x="865" y="830" class="t12">mascotas</text></g>
<g id="otros-conc"><rect x="800" y="842" width="130" height="51" rx="11" class="bpill"/><text x="865" y="856" class="t12">Otros</text><text x="865" y="872" class="t12">concentrados para</text><text x="865" y="888" class="t12">animales de cria</text></g>
<g id="sales-min"><rect x="800" y="899" width="130" height="26" rx="11" class="bpill"/><text x="865" y="916" class="t12">Sales minerales</text></g>
<g id="otras-bases"><rect x="800" y="932" width="130" height="38" rx="11" class="bpill"/><text x="865" y="947" class="t12">Otras bases para</text><text x="865" y="963" class="t12">mezclas</text></g>

<!-- logistics and distribution -->
<g id="medios"><rect x="982" y="430" width="30" height="415" rx="15" fill="url(#gMedios)" stroke="#5a3a20" stroke-width="1"/><rect x="982" y="430" width="30" height="415" rx="15" fill="url(#gMedX)"/><text transform="translate(1003,637) rotate(-90)" style="font-size:15px" textLength="326" lengthAdjust="spacing">MEDIOS DE TRANSPORTE  ---  LOGÍSTICA</text></g>
<g id="canales"><rect x="1031" y="477" width="34" height="118" rx="9" fill="url(#gCanal)" stroke="#8a70a8" stroke-width="1.2"/><text transform="translate(1045,536) rotate(-90)" style="font-size:10.5px">CANALES DE</text><text transform="translate(1058,536) rotate(-90)" style="font-size:10.5px">DISTRIBUCIÓN</text></g>
<g id="nacional"><rect x="1093" y="286" width="104" height="26" rx="5" fill="url(#gNac)" stroke="#50709a" stroke-width="1.2"/><text x="1145" y="304.5" style="font-size:15px">Nacional</text></g>
<g id="directa-n"><rect x="1112" y="326" width="82" height="17" rx="7" class="chan"/><text x="1153" y="338.5" class="t9">Directa</text></g>
<g id="mayoristas"><rect x="1112" y="356" width="82" height="17" rx="7" class="chan"/><text x="1153" y="368.5" class="t9">Mayoristas</text></g>
<g id="minoristas"><rect x="1112" y="385" width="82" height="17" rx="7" class="chan"/><text x="1153" y="397.5" class="t9">Minoristas</text></g>
<g id="distribuidores"><rect x="1112" y="414" width="82" height="17" rx="7" class="chan"/><text x="1153" y="426.5" class="t9">Distribuidores</text></g>
<g id="grandes"><rect x="1112" y="442" width="82" height="40" rx="7" class="chan"/><text x="1153" y="459" class="t9">Grandes</text><text x="1153" y="472" class="t9">superficies</text></g>
<g id="brokers"><rect x="1112" y="568" width="82" height="17" rx="7" class="chan"/><text x="1153" y="580.5" class="t9">Brokers</text></g>
<g id="exportacion"><rect x="1112" y="597" width="82" height="17" rx="7" class="chan"/><text x="1153" y="609.5" class="t9">Exportación</text></g>
<g id="directa-i"><rect x="1112" y="628" width="82" height="17" rx="7" class="chan"/><text x="1153" y="640.5" class="t9">Directa</text></g>
<g id="internacional"><rect x="1093" y="686" width="121" height="26" rx="5" fill="url(#gNac)" stroke="#50709a" stroke-width="1.2"/><text x="1153.5" y="704.5" style="font-size:15px">Internacional</text></g>
<g id="cliente-final"><rect x="1253" y="309" width="32" height="342" rx="10" fill="url(#pCF)" stroke="#5a6640" stroke-width="1"/><text transform="translate(1276,480) rotate(-90)" style="font-size:21px">Cliente Final</text></g>

<!-- information system and actors -->
<g id="sistema-info"><rect x="350" y="1006" width="700" height="22" rx="8" fill="url(#gSis)" stroke="#2a8a40" stroke-width="1.2"/><text x="699" y="1021" style="font-size:12px;word-spacing:5px">Sistema   De   Información  -  TIC  - Aplicados a la nutrición, inocuidad y trazabilidad</text></g>
<g id="academia"><rect x="30" y="1038" width="172" height="22" class="actor" rx="7"/><text x="116" y="1056" style="font-size:15px" textLength="128" lengthAdjust="spacing"><tspan class="big">A</tspan>CADEMIA</text></g>
<g id="banca"><rect x="267" y="1038" width="135" height="22" class="actor" rx="7"/><text x="334" y="1056" style="font-size:15px" textLength="83" lengthAdjust="spacing"><tspan class="big">B</tspan>ANCA</text></g>
<g id="idi"><rect x="450" y="1038" width="137" height="22" class="actor" rx="7"/><text x="521" y="1056" style="font-size:16px" textLength="62" lengthAdjust="spacing">I+D+I</text></g>
<g id="infraestructura"><rect x="650" y="1038" width="180" height="22" class="actor" rx="7"/><text x="740" y="1056" style="font-size:15px" textLength="170" lengthAdjust="spacingAndGlyphs"><tspan class="big">I</tspan>NFRAESTRUCTURA</text></g>
<g id="gobierno"><rect x="900" y="1038" width="145" height="22" class="actor" rx="7"/><text x="972" y="1056" style="font-size:15px" textLength="132" lengthAdjust="spacing"><tspan class="big">G</tspan>OBIERNO</text></g>
<g id="sociedad"><rect x="1110" y="1038" width="163" height="22" class="actor" rx="7"/><text x="1196" y="1056" style="font-size:15px" textLength="128" lengthAdjust="spacing"><tspan class="big">S</tspan>OCIEDAD</text></g>
</svg>
